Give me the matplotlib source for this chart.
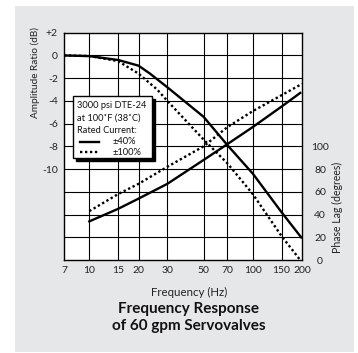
import matplotlib
matplotlib.use("Agg")
import matplotlib.pyplot as plt
from matplotlib.patches import Rectangle
from matplotlib.lines import Line2D

plt.rcParams['font.family'] = ['Lato', 'DejaVu Sans']

# ---- data ----
amp_freq_40 = [7, 10, 15, 20, 23.5, 30, 50, 70, 100, 150, 200]
amp_40 = [0, -0.06, -0.4, -0.9, -1.6, -2.8, -5.4, -7.9, -10.4, -13.8, -16.1]
amp_freq_100 = [7, 10, 15, 20, 26, 30, 50, 70, 100, 150, 195]
amp_100 = [0, -0.05, -0.5, -1.6, -3.0, -4.0, -7.4, -9.5, -12.2, -15.9, -18.0]
ph_freq_40 = [10, 15, 20, 30, 50, 70, 100, 150, 195]
ph_40 = [34, 45, 54, 67, 88, 102, 117, 135, 147]
ph_freq_100 = [10, 15, 20, 30, 50, 70, 100, 150, 200]
ph_100 = [43, 58, 67, 82, 100, 117, 131, 145, 155]

x_ticks = [7, 10, 15, 20, 30, 50, 70, 100, 150, 200]
x_labels = ['7', '10', '15', '20', '30', '50', '70', '100', '150', '200']
amp_ticks = [2, 0, -2, -4, -6, -8, -10]
amp_labels = ['+2', '0', '-2', '-4', '-6', '-8', '-10']
ph_ticks = [0, 20, 40, 60, 80, 100]
ph_labels = ['0', '20', '40', '60', '80', '100']

W, H = 358, 353
fig = plt.figure(figsize=(W / 100, H / 100), dpi=100)
fig.patch.set_facecolor('white')

def fx(px):
    return px / W

def fy(py):
    return 1 - py / H

# gray panel
fig.patches.append(Rectangle((fx(15), fy(352)), fx(354) - fx(15), fy(6) - fy(352),
                             transform=fig.transFigure, facecolor='#e6e7e9',
                             edgecolor='none', zorder=-5))

L, R, T, B = 64, 302, 32.7, 260
ax = fig.add_axes([fx(L), fy(B), fx(R) - fx(L), fy(T) - fy(B)])
ax.set_facecolor('white')
ax.set_xscale('log')
ax.set_xlim(7, 200)
ax.set_ylim(-18, 2)
ax.set_xticks(x_ticks)
ax.set_xticklabels(x_labels)
ax.minorticks_off()
ax.set_yticks(amp_ticks)
ax.set_yticklabels(amp_labels)
ax.tick_params(length=0, labelsize=7.5, pad=4.5, colors='#222222')
for v in x_ticks[1:-1]:
    ax.axvline(v, color='black', lw=0.8, zorder=1)
for v in range(-16, 2, 2):
    ax.axhline(v, color='black', lw=0.8, zorder=1)
for s in ax.spines.values():
    s.set_linewidth(1.0)
    s.set_color('black')

ax.plot(amp_freq_40, amp_40, color='black', lw=1.7, zorder=3, solid_capstyle='butt')
ax.plot(amp_freq_100, amp_100, color='black', lw=1.7, ls=(0, (1, 1.1)), zorder=3)

ax2 = ax.twinx()
ax2.set_ylim(0, 200)
ax2.set_yticks(ph_ticks)
ax2.set_yticklabels(ph_labels)
ax2.tick_params(length=0, labelsize=7.5, pad=13, colors='#222222')
for lab in ax2.get_yticklabels():
    lab.set_horizontalalignment('center')
for s in ax2.spines.values():
    s.set_visible(False)
ax2.plot(ph_freq_40, ph_40, color='black', lw=1.7, zorder=3)
ax2.plot(ph_freq_100, ph_100, color='black', lw=1.7, ls=(0, (1, 1.1)), zorder=3)

# axis labels
fig.text(fx(35), fy(73), 'Amplitude Ratio (dB)', rotation=90, ha='center', va='center',
         fontsize=7.2, color='#222222')
fig.text(fx(337), fy(207), 'Phase Lag (degrees)', rotation=90, ha='center', va='center',
         fontsize=7.6, color='#222222')
fig.text(fx(189), fy(292), 'Frequency (Hz)', ha='center', va='center', fontsize=8.3, color='#222222')
fig.text(fx(189), fy(309.5), 'Frequency Response', ha='center', va='center', fontsize=11,
         fontweight='bold', color='#111111')
fig.text(fx(189), fy(326), 'of 60 gpm Servovalves', ha='center', va='center', fontsize=11,
         fontweight='bold', color='#111111')

# legend box with shadow
bx0, by0, bx1, by1 = 72.7, 96, 151.7, 158.3
fig.patches.append(Rectangle((fx(bx0 + 3), fy(by1 + 3)), fx(bx1) - fx(bx0), fy(by0) - fy(by1),
                             transform=fig.transFigure, facecolor='black', edgecolor='black',
                             zorder=5))
fig.patches.append(Rectangle((fx(bx0), fy(by1)), fx(bx1) - fx(bx0), fy(by0) - fy(by1),
                             transform=fig.transFigure, facecolor='white', edgecolor='black',
                             lw=1.0, zorder=6))
tkw = dict(ha='left', va='center', fontsize=6.7, color='#111111', zorder=7)
fig.text(fx(77), fy(105.7), '3000 psi DTE-24', **tkw)
fig.text(fx(77), fy(117.7), 'at 100˚F (38˚C)', **tkw)
fig.text(fx(77), fy(130), 'Rated Current:', **tkw)
fig.text(fx(113), fy(141.7), '±40%', **tkw)
fig.text(fx(112.5), fy(152.3), '±100%', **tkw)
fig.lines.append(Line2D([fx(80), fx(99)], [fy(141.7), fy(141.7)], transform=fig.transFigure,
                        color='black', lw=1.7, zorder=7))
fig.lines.append(Line2D([fx(79.5), fx(98.5)], [fy(152.3), fy(152.3)], transform=fig.transFigure,
                        color='black', lw=1.7, ls=(0, (1, 1.1)), zorder=7))

fig.savefig('out.png', dpi=100)
